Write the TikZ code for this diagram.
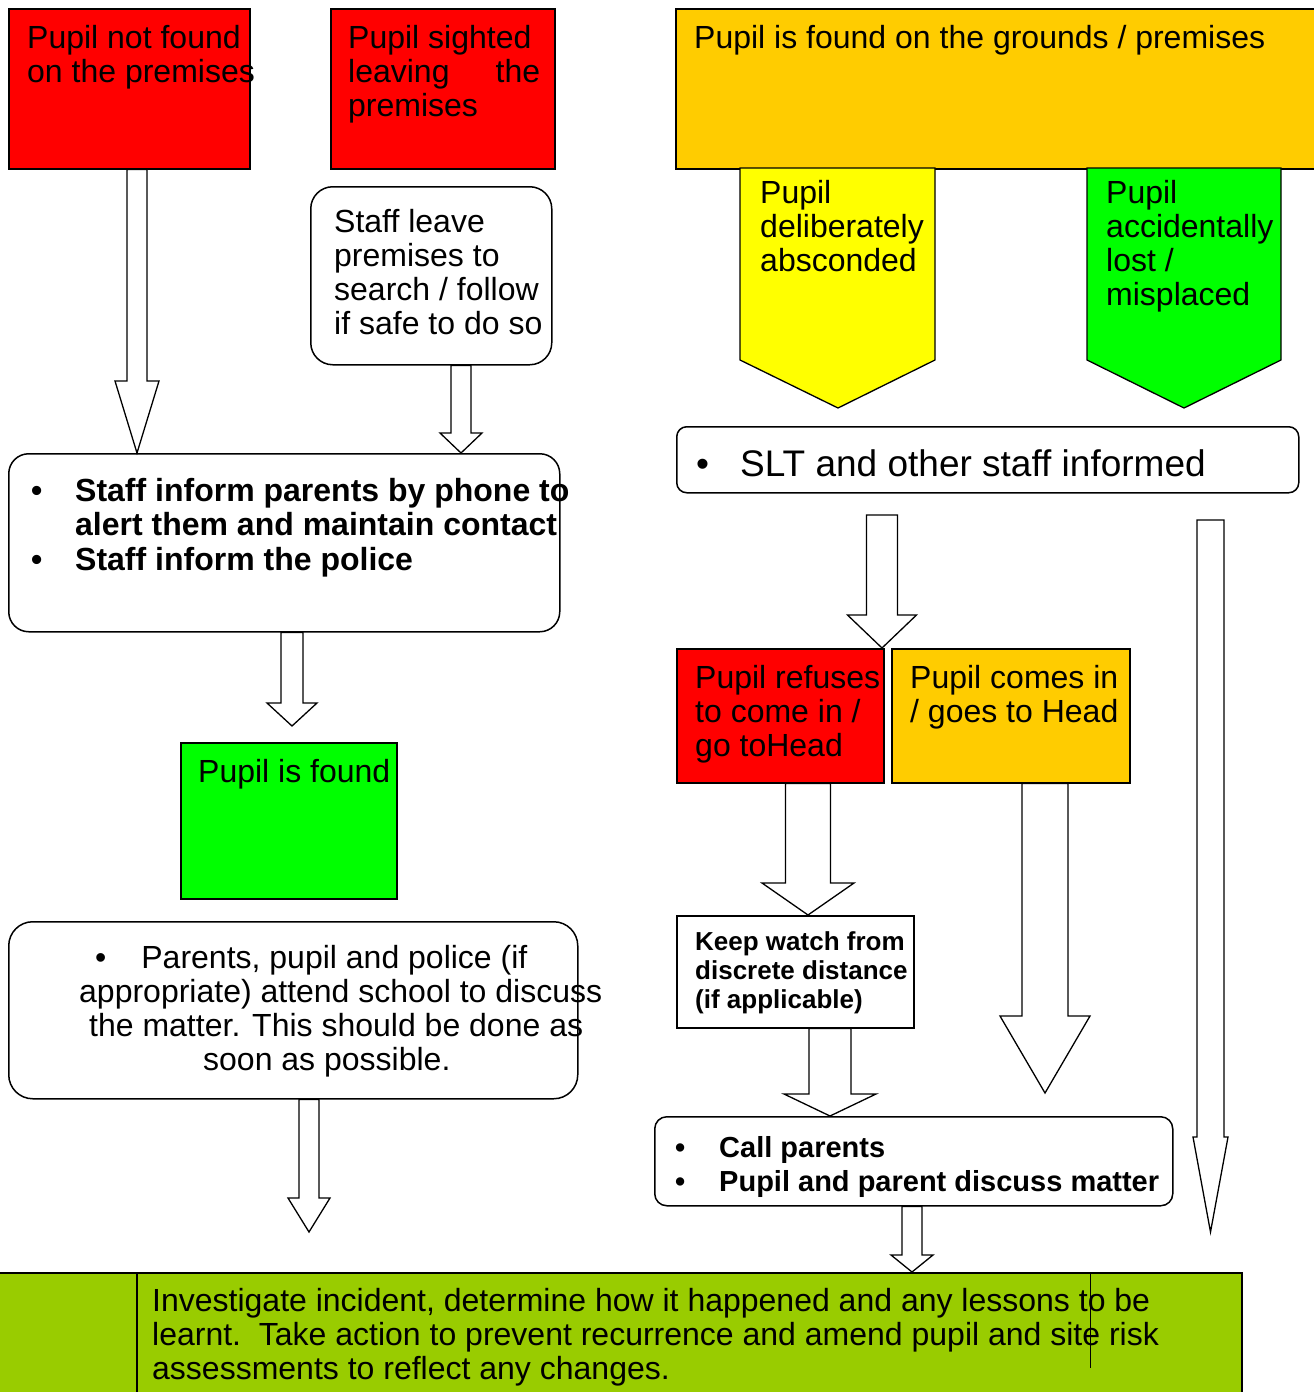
\documentclass[tikz,border=0pt]{standalone}
\usepackage{fontspec}
\setmainfont{Liberation Sans}
\usetikzlibrary{calc}
\definecolor{alertred}{RGB}{255,0,0}
\definecolor{amber}{RGB}{255,204,0}
\definecolor{brightyellow}{RGB}{255,255,0}
\definecolor{brightgreen}{RGB}{0,255,0}
\definecolor{olivegreen}{RGB}{153,204,0}
% block arrow: x, from, to, half shaft, half head, head length
\newcommand{\fatarrow}[6]{%
  \draw[fatarr] let \p1=(#2), \p2=(#3) in
    (#1-#4,\y1) -- (#1+#4,\y1) -- (#1+#4,\y2+#6) -- (#1+#5,\y2+#6)
    -- (#1,\y2) -- (#1-#5,\y2+#6) -- (#1-#4,\y2+#6) -- cycle;}
\newcommand{\bul}[1]{\makebox[#1][l]{\textbullet}}

\begin{document}
\begin{tikzpicture}[x=1pt,y=-1pt,
    box/.style={draw, line width=1.5pt, inner sep=0pt, anchor=north west},
    txt/.style={inner sep=0pt, anchor=base west, align=left, font=\fontsize{32}{34}\selectfont},
    fatarr/.style={draw, fill=white, line width=1.3pt, line join=miter}]
    \useasboundingbox (0,0) rectangle (1314,1392);
    % left column (text nodes sit on their last baseline)
    \node[box, fill=alertred, minimum width=241pt, minimum height=160pt] (notfound) at (8,8) {};
    \node[txt] (notfoundtext) at (27,82) {Pupil not found\\on the premises};
    \node[box, fill=alertred, minimum width=224pt, minimum height=160pt] (sighted) at (330,8) {};
    \node[txt] (sightedtext) at (348,116) {Pupil sighted\\\makebox[192pt][l]{leaving\hfill the}\\premises};
    \node[box, rounded corners=22pt, minimum width=241pt, minimum height=178pt] (staffleave) at (310,186) {};
    \node[txt] (staffleavetext) at (334,334) {Staff leave\\premises to\\search / follow\\if safe to do so};
    \node[box, rounded corners=20pt, minimum width=551pt, minimum height=178pt] (inform) at (8,453) {};
    \node[txt, font={\fontsize{32}{34}\selectfont\bfseries}] (informtext) at (31,570)
        {\bul{44pt}Staff inform parents by phone to\\\hspace*{44pt}alert them and maintain contact\\[1pt]\bul{44pt}Staff inform the police};
    \node[box, fill=brightgreen, minimum width=216pt, minimum height=156pt] (found) at (180,742) {};
    \node[txt] (foundtext) at (198,782) {Pupil is found};
    \node[box, rounded corners=24pt, minimum width=569pt, minimum height=177pt] (discuss) at (8,921) {};
    \node[txt] (discusstext) at (79,1070)
        {\hspace*{16pt}\textbullet\hspace{35pt}Parents, pupil and police (if\\appropriate) attend school to discuss\\\hspace*{10pt}the matter. This should be done as\\\hspace*{124pt}soon as possible.};
    % right column
    \node[box, fill=amber, minimum width=640pt, minimum height=160pt] (onsite) at (675,8) {};
    \node[txt] (onsitetext) at (694,48) {Pupil is found on the grounds / premises};
    \filldraw[line width=1.3pt, fill=brightyellow] (740,168) -- (935,168) -- (935,360) -- (838,408) -- (740,360) -- cycle;
    \node[txt] (abscondtext) at (760,271) {Pupil\\deliberately\\absconded};
    \filldraw[line width=1.3pt, fill=brightgreen] (1087,168) -- (1281,168) -- (1281,360) -- (1184,408) -- (1087,360) -- cycle;
    \node[txt] (losttext) at (1106,305) {Pupil\\accidentally\\lost /\\misplaced};
    \node[box, rounded corners=10pt, minimum width=622pt, minimum height=66pt] (slt) at (676,426) {};
    \node[txt, font=\fontsize{37}{40}\selectfont] (slttext) at (696,476) {\bul{44pt}SLT and other staff informed};
    \node[box, fill=alertred, minimum width=207pt, minimum height=134pt] (refuse) at (676,648) {};
    \node[txt] (refusetext) at (695,756) {Pupil refuses\\to come in /\\go toHead};
    \node[box, fill=amber, minimum width=238pt, minimum height=134pt] (comes) at (891,648) {};
    \node[txt] (comestext) at (910,722) {Pupil comes in\\/ goes to Head};
    \node[box, minimum width=237pt, minimum height=112pt] (watch) at (676,915) {};
    \node[txt, font={\fontsize{26}{29}\selectfont\bfseries}] (watchtext) at (695,1008) {Keep watch from\\discrete distance\\(if applicable)};
    \node[box, rounded corners=12pt, minimum width=518pt, minimum height=89pt] (callparents) at (654,1116) {};
    \node[txt, font={\fontsize{29}{34}\selectfont\bfseries}] (callparentstext) at (675,1191)
        {\bul{44pt}Call parents\\\bul{44pt}Pupil and parent discuss matter};
    % bottom
    \node[box, fill=olivegreen, minimum width=1243pt, minimum height=140pt] (investigate) at (-2,1272) {};
    \draw[line width=1.3pt] (137,1272) -- (137,1400);
    \draw[line width=0.8pt] (1090,1272) -- (1090,1368);
    \node[txt] (investigatetext) at (152,1379) {Investigate incident, determine how it happened and any lessons to be\\learnt.\ \ Take action to prevent recurrence and amend pupil and site risk\\assessments to reflect any changes.};
    % arrows
    \coordinate (foundtip) at (292,726);
    \coordinate (discusstip) at (309,1232);
    \coordinate (sltstart) at (882,515);
    \coordinate (sidestart) at (1210.5,520);
    \coordinate (sidetip) at (1210.5,1232);
    \coordinate (comestip) at (1045,1093);
    \fatarrow{137}{notfound.south}{inform.north}{10}{22}{72}
    \fatarrow{461}{staffleave.south}{inform.north}{10}{21}{20}
    \fatarrow{292}{inform.south}{foundtip}{11}{25}{23}
    \fatarrow{309}{discuss.south}{discusstip}{10}{21}{34}
    \fatarrow{882}{sltstart}{refuse.north}{15.5}{34.5}{33}
    \fatarrow{1210.5}{sidestart}{sidetip}{13.5}{17.5}{95}
    \fatarrow{808}{refuse.south}{watch.north}{22.5}{46}{32}
    \fatarrow{1045}{comes.south}{comestip}{23}{45}{77}
    \fatarrow{830}{watch.south}{callparents.north}{21}{46}{22}
    \fatarrow{912}{callparents.south}{investigate.north}{10}{21}{17}
\end{tikzpicture}
\end{document}
